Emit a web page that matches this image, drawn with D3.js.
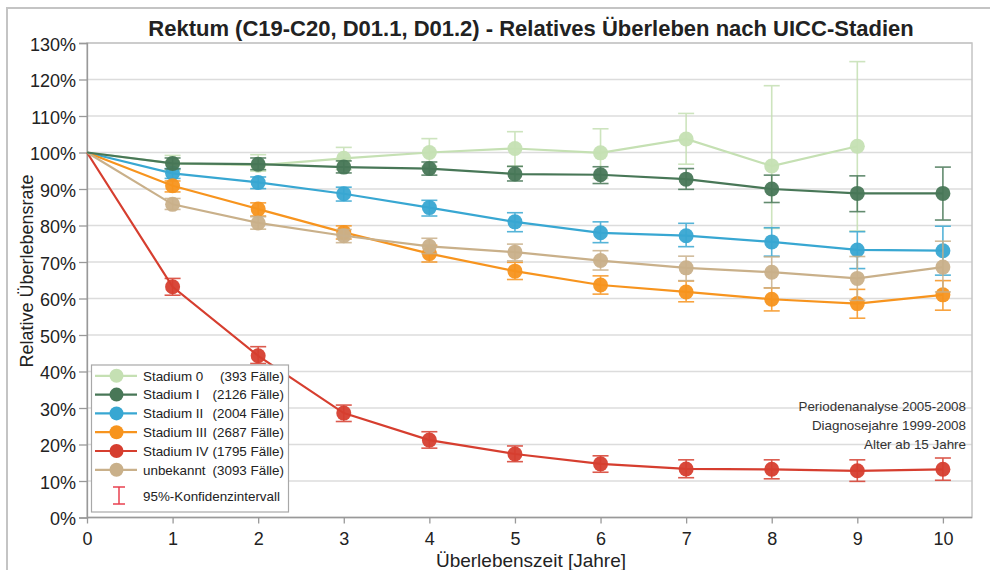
<!DOCTYPE html>
<html>
<head>
<meta charset="utf-8">
<script src="https://cdn.jsdelivr.net/npm/d3@7"></script>
<style>
  body { margin:0; background:#fff; }
  svg { font-family: "Liberation Sans", Arial, sans-serif; }
  .grid line { stroke:#dcdcdc; stroke-width:1.5; }
  .axis path, .axis line { stroke:#999; stroke-width:1.3; }
  .axis text { font-size:18px; fill:#222; }
</style>
</head>
<body>
<svg id="chart" width="990" height="570"></svg>
<script>
const years = [0,1,2,3,4,5,6,7,8,9,10];
const yTicks = [0,10,20,30,40,50,60,70,80,90,100,110,120,130];

const names = ['Stadium 0','Stadium I','Stadium II','Stadium III','Stadium IV','unbekannt'];
const caseCounts = ['(393 Fälle)','(2126 Fälle)','(2004 Fälle)','(2687 Fälle)','(1795 Fälle)','(3093 Fälle)'];
const colors = ['#c5e0b3','#487757','#38a7d2','#f7941e','#d63e2f','#c9b08a'];

const stage0 = [100,97.0,96.5,98.4,100,101.1,99.9,103.7,96.3,101.7,null];
const stage0Lo = [null,95.0,94.9,95.3,96.2,96.2,92.9,96.8,79.2,78.5,null];
const stage0Hi = [null,99.2,99.4,101.4,103.8,105.7,106.5,110.7,118.3,124.9,null];

const stage1 = [100,97.0,96.8,96.0,95.6,94.1,93.9,92.7,90.0,88.8,88.8];
const stage1Lo = [null,95.5,95.3,94.4,93.8,92.2,91.5,89.9,86.3,83.8,81.5];
const stage1Hi = [null,98.5,98.5,97.7,97.4,96.2,96.1,95.6,93.8,93.6,96.0];

const stage2 = [100,94.3,91.8,88.7,84.9,81.0,78.0,77.2,75.5,73.3,73.1];
const stage2Lo = [null,92.9,90.1,86.7,82.6,78.3,75.3,74.2,71.6,68.2,66.4];
const stage2Hi = [null,95.6,93.3,90.5,86.9,83.5,81.0,80.6,79.4,78.3,79.8];

const stage3 = [100,90.9,84.5,78.1,72.3,67.5,63.7,61.8,59.8,58.6,61.0];
const stage3Lo = [null,89.2,82.6,76.3,70.0,65.2,61.2,59.1,56.6,54.6,56.8];
const stage3Hi = [null,92.2,86.2,79.9,74.6,69.9,66.2,64.8,62.9,62.5,64.9];

const stage4 = [100,63.2,44.3,28.6,21.2,17.4,14.7,13.3,13.2,12.8,13.2];
const stage4Lo = [null,60.9,42.2,26.3,19.0,15.3,12.4,10.9,10.6,9.9,10.2];
const stage4Hi = [null,65.5,46.8,30.8,23.5,19.6,16.9,15.8,15.8,15.8,16.3];

const unknown = [100,85.8,80.7,77.2,74.3,72.7,70.4,68.4,67.2,65.5,68.6];
const unknownLo = [null,84.4,79.0,75.3,72.3,70.3,67.8,64.9,62.9,59.5,61.8];
const unknownHi = [null,87.4,82.4,78.9,76.5,74.9,73.1,71.6,71.4,71.5,75.7];

const notes = ['Periodenanalyse 2005-2008','Diagnosejahre 1999-2008','Alter ab 15 Jahre'];

const series = [
  {i:0, v:stage0, lo:stage0Lo, hi:stage0Hi},
  {i:1, v:stage1, lo:stage1Lo, hi:stage1Hi},
  {i:2, v:stage2, lo:stage2Lo, hi:stage2Hi},
  {i:3, v:stage3, lo:stage3Lo, hi:stage3Hi},
  {i:4, v:stage4, lo:stage4Lo, hi:stage4Hi},
  {i:5, v:unknown, lo:unknownLo, hi:unknownHi}
];
// drawing order (bottom -> top)
const order = [0,2,3,4,5,1];

const svg = d3.select('#chart');
const pL = 87, pR = 972, pT = 43, pB = 517.5;

const x = d3.scaleLinear().domain([0,10.34]).range([pL,pR]);
const y = d3.scaleLinear().domain([0,130]).range([pB,pT]);

// outer frame
svg.append('rect').attr('x',7).attr('y',8).attr('width',1000).attr('height',600)
  .attr('fill','none').attr('stroke','#c4c4c4').attr('stroke-width',2);

svg.append('text')
  .attr('x',531).attr('y',35.5)
  .attr('text-anchor','middle')
  .attr('font-size','22px').attr('font-weight','bold').attr('fill','#222')
  .text('Rektum (C19-C20, D01.1, D01.2) - Relatives Überleben nach UICC-Stadien');

// grid
svg.append('g').attr('class','grid')
  .selectAll('line').data(yTicks.filter(d => d>0)).enter().append('line')
  .attr('x1',pL).attr('x2',pR)
  .attr('y1',d => y(d)).attr('y2',d => y(d));

// plot frame
svg.append('rect').attr('x',pL).attr('y',pT).attr('width',pR-pL).attr('height',pB-pT)
  .attr('fill','none').attr('stroke','#c4c4c4').attr('stroke-width',1.5);

const yAxis = svg.append('g').attr('class','axis')
  .attr('transform',`translate(${pL},0)`)
  .call(d3.axisLeft(y).tickValues(yTicks).tickFormat(d => d+'%').tickSize(8).tickPadding(3));
yAxis.selectAll('text').attr('dy','0.4em');

const xAxis = svg.append('g').attr('class','axis')
  .attr('transform',`translate(0,${pB})`)
  .call(d3.axisBottom(x).tickValues(years).tickFormat(d3.format('d')).tickSize(6).tickPadding(9));
xAxis.select('.domain').attr('d',`M${pL},0H${pR}`);

svg.append('text')
  .attr('x',531).attr('y',567)
  .attr('text-anchor','middle').attr('font-size','19px').attr('fill','#222')
  .text('Überlebenszeit [Jahre]');

svg.append('text')
  .attr('transform',`translate(33,271) rotate(-90)`)
  .attr('text-anchor','middle').attr('font-size','18px').attr('fill','#222')
  .text('Relative Überlebensrate');

const line = d3.line()
  .defined(d => d.v != null)
  .x(d => x(d.t)).y(d => y(d.v));

order.forEach(k => {
  const s = series[k];
  const col = colors[s.i];
  const pts = years.map((t,j) => ({t:t, v:s.v[j], lo:s.lo[j], hi:s.hi[j]}));
  const g = svg.append('g');

  g.append('path').datum(pts)
    .attr('d',line).attr('fill','none')
    .attr('stroke',col).attr('stroke-width',2.2);

  const eb = pts.filter(d => d.lo != null);
  const err = g.selectAll('g.err').data(eb).enter().append('g')
    .attr('stroke',col).attr('stroke-width',1.6).attr('opacity',0.85);
  err.append('line')
    .attr('x1',d => x(d.t)).attr('x2',d => x(d.t))
    .attr('y1',d => y(d.lo)).attr('y2',d => y(d.hi));
  err.append('line')
    .attr('x1',d => x(d.t)-8).attr('x2',d => x(d.t)+8)
    .attr('y1',d => y(d.lo)).attr('y2',d => y(d.lo));
  err.append('line')
    .attr('x1',d => x(d.t)-8).attr('x2',d => x(d.t)+8)
    .attr('y1',d => y(d.hi)).attr('y2',d => y(d.hi));

  g.selectAll('circle').data(pts.filter(d => d.v != null && d.t > 0)).enter().append('circle')
    .attr('cx',d => x(d.t)).attr('cy',d => y(d.v))
    .attr('r',7.5).attr('fill',col).attr('opacity',0.95);
});

// notes
svg.append('g').selectAll('text').data(notes).enter().append('text')
  .attr('x',966).attr('y',(d,i) => 410.5 + i*19.3)
  .attr('text-anchor','end').attr('font-size','13.4px').attr('fill','#333')
  .text(d => d);

// legend
const lg = svg.append('g');
lg.append('rect').attr('x',91.5).attr('y',365).attr('width',197).attr('height',147)
  .attr('fill','#fff').attr('stroke','#a8a8a8').attr('stroke-width',1.2);

const rows = lg.selectAll('g.row').data(names).enter().append('g')
  .attr('transform',(d,i) => `translate(0,${375.8 + i*18.8})`);
rows.append('line').attr('x1',95).attr('x2',137).attr('y1',0).attr('y2',0)
  .attr('stroke',(d,i) => colors[i]).attr('stroke-width',2.2);
rows.append('circle').attr('cx',116.5).attr('cy',0).attr('r',7)
  .attr('fill',(d,i) => colors[i]);
rows.append('text').attr('x',143).attr('y',4.8)
  .attr('font-size','13.4px').attr('fill','#222').text(d => d);
rows.append('text').attr('x',284).attr('y',4.8).attr('text-anchor','end')
  .attr('font-size','13.4px').attr('fill','#222').text((d,i) => caseCounts[i]);

const ci = lg.append('g').attr('stroke','#e8404f').attr('stroke-width',1.5);
ci.append('line').attr('x1',119).attr('x2',119).attr('y1',487).attr('y2',504);
ci.append('line').attr('x1',113).attr('x2',125).attr('y1',487).attr('y2',487);
ci.append('line').attr('x1',113).attr('x2',125).attr('y1',504).attr('y2',504);
lg.append('text').attr('x',143).attr('y',500.8)
  .attr('font-size','13.4px').attr('fill','#222').text('95%-Konfidenzintervall');
</script>
</body>
</html>
